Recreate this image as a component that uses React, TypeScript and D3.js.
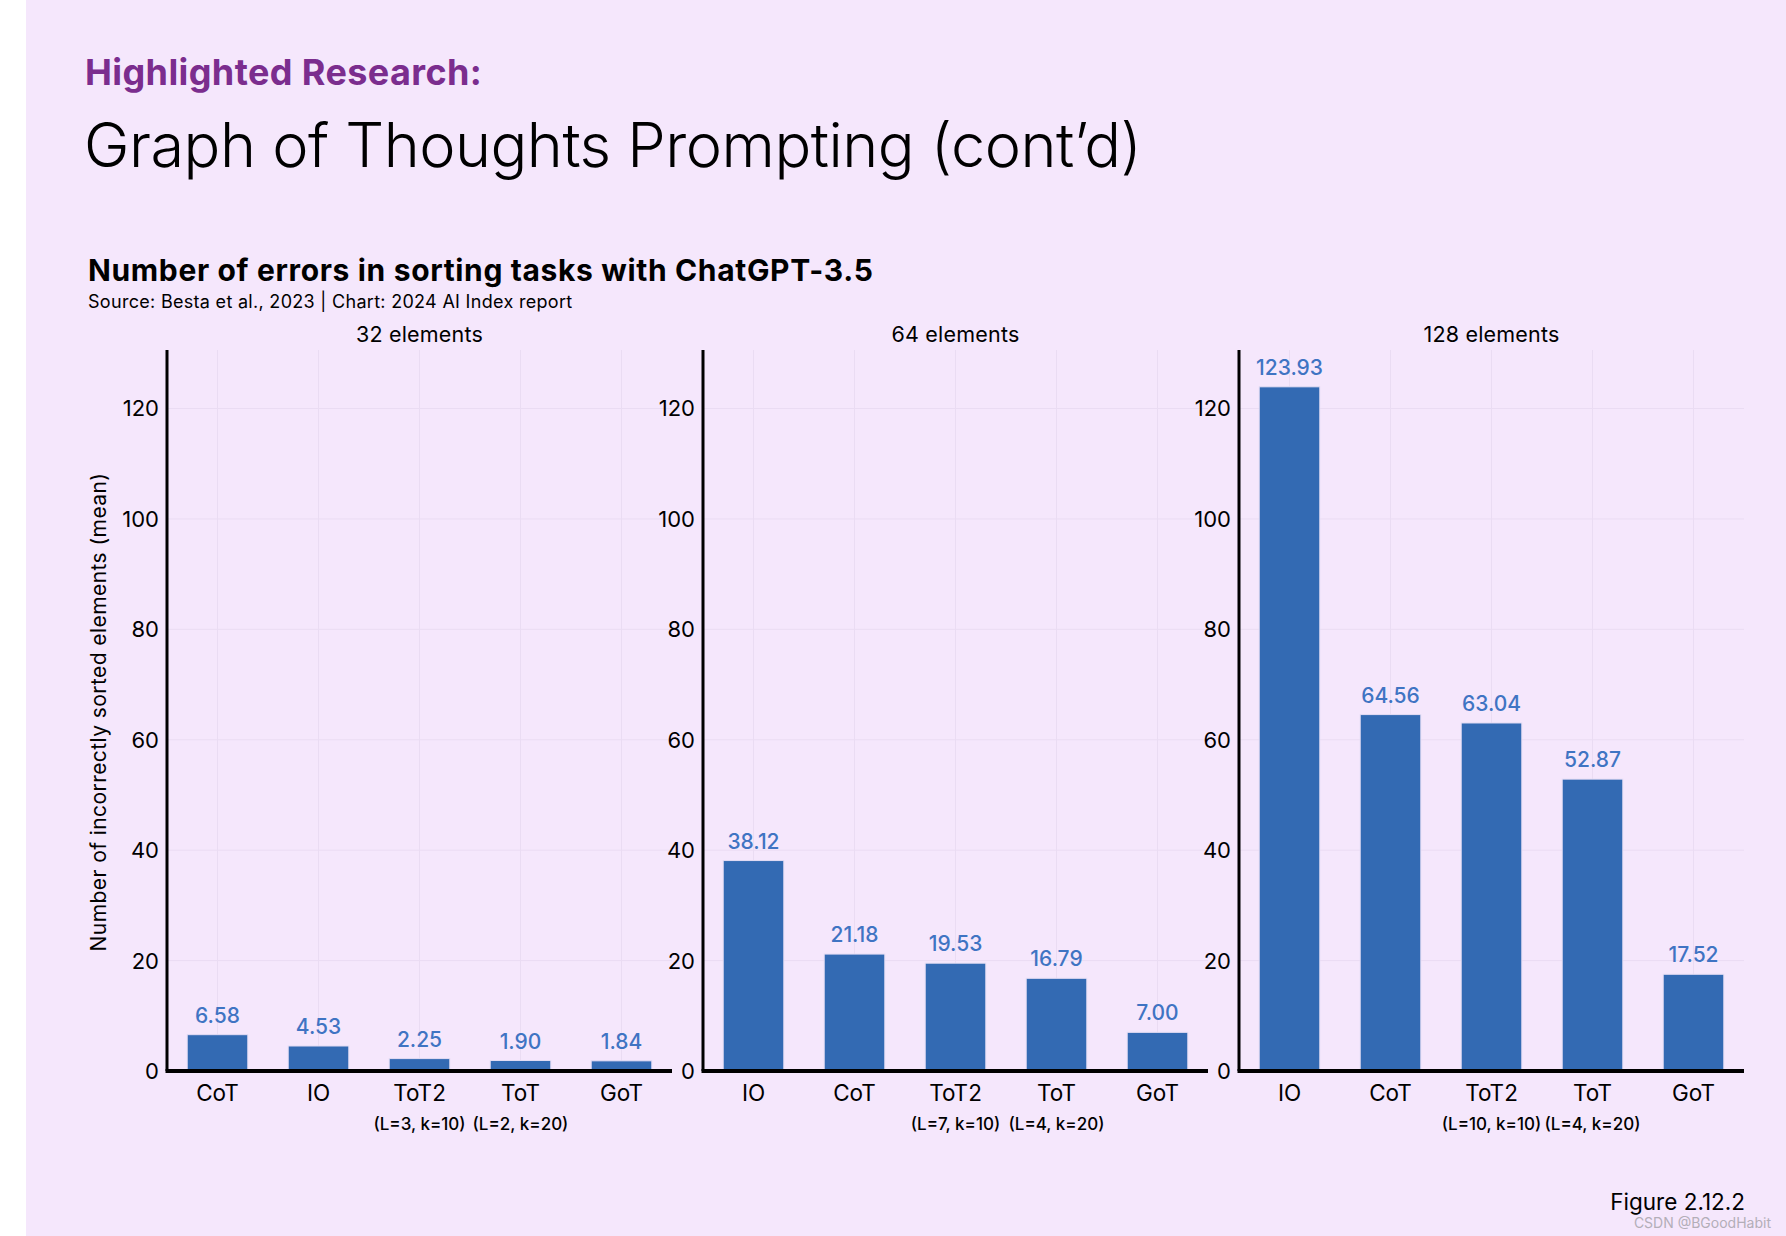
import React from "react";
import * as d3 from "d3";

const panelTitles = ["32 elements", "64 elements", "128 elements"];
const categories32 = ["CoT", "IO", "ToT2", "ToT", "GoT"];
const values32 = [6.58, 4.53, 2.25, 1.9, 1.84];
const sub32 = ["", "", "(L=3, k=10)", "(L=2, k=20)", ""];
const categories64 = ["IO", "CoT", "ToT2", "ToT", "GoT"];
const values64 = [38.12, 21.18, 19.53, 16.79, 7.0];
const sub64 = ["", "", "(L=7, k=10)", "(L=4, k=20)", ""];
const categories128 = ["IO", "CoT", "ToT2", "ToT", "GoT"];
const values128 = [123.93, 64.56, 63.04, 52.87, 17.52];
const sub128 = ["", "", "(L=10, k=10)", "(L=4, k=20)", ""];
const yTicks = [0, 20, 40, 60, 80, 100, 120];

const W = 1786;
const H = 1236;
const FONT = "Inter, 'Noto Sans', sans-serif";
const BG = "#F5E7FC";
const BAR = "#336AB3";
const LABEL = "#3F74C3";
const GRID = "#EADCF3";

const panels = [
  { title: panelTitles[0], cats: categories32, vals: values32, subs: sub32 },
  { title: panelTitles[1], cats: categories64, vals: values64, subs: sub64 },
  { title: panelTitles[2], cats: categories128, vals: values128, subs: sub128 },
];

const PANEL_LEFT0 = 167;
const PANEL_STEP = 536;
const PANEL_W = 505;
const Y_TOP = 350;
const Y_ZERO = 1071;

export default function App() {
  const y = d3.scaleLinear().domain([0, 130.6]).range([Y_ZERO, Y_TOP]);
  return (
    <div style={{ position: "absolute", left: 0, top: 0 }}>
      <svg width={W} height={H} style={{ display: "block" }} fontFamily={FONT}>
        <rect x={0} y={0} width={W} height={H} fill="#ffffff" />
        <rect x={26} y={0} width={W - 26} height={H} fill={BG} />
        <text x={85} y={85} fontSize={36} fontWeight={700} fill="#7B2D8E" letterSpacing={0.4}>
          Highlighted Research:
        </text>
        <text x={84} y={167} fontSize={61.2} fontWeight={300} fill="#000" letterSpacing={-0.5}>
          Graph of Thoughts Prompting (cont’d)
        </text>
        <text x={88} y={281} fontSize={30} fontWeight={700} fill="#000" letterSpacing={0.65}>
          Number of errors in sorting tasks with ChatGPT-3.5
        </text>
        <text x={88} y={308} fontSize={18} fill="#000" letterSpacing={0.3}>
          Source: Besta et al., 2023 | Chart: 2024 AI Index report
        </text>
        <text
          transform={`translate(106, 712) rotate(-90)`}
          textAnchor="middle"
          fontSize={21}
          letterSpacing={0.43}
          fill="#000"
        >
          Number of incorrectly sorted elements (mean)
        </text>
        {panels.map((p, pi) => {
          const left = PANEL_LEFT0 + pi * PANEL_STEP;
          const right = left + PANEL_W;
          const x = d3.scaleBand<string>().domain(p.cats).range([left, right]).padding(0);
          const bw = x.bandwidth() * 0.6;
          return (
            <g key={pi}>
              <text x={(left + right) / 2} y={342} textAnchor="middle" fontSize={21.5} letterSpacing={0.2} fill="#000">
                {p.title}
              </text>
              {yTicks.map((t) => (
                <line key={"h" + t} x1={left} x2={right} y1={y(t)} y2={y(t)} stroke={GRID} strokeWidth={1} />
              ))}
              {p.cats.map((c) => (
                <line
                  key={"v" + c}
                  x1={x(c)! + x.bandwidth() / 2}
                  x2={x(c)! + x.bandwidth() / 2}
                  y1={Y_TOP}
                  y2={Y_ZERO}
                  stroke={GRID}
                  strokeWidth={1}
                />
              ))}
              {p.cats.map((c, i) => {
                const cx = x(c)! + x.bandwidth() / 2;
                return (
                  <g key={"b" + c}>
                    <rect
                      x={cx - bw / 2}
                      y={y(p.vals[i])}
                      width={bw}
                      height={Y_ZERO - y(p.vals[i])}
                      fill={BAR}
                      stroke="#E4DDF4"
                      strokeWidth={1}
                    />
                    <text x={cx} y={y(p.vals[i]) - 12} textAnchor="middle" fontSize={21} fontWeight={500} fill={LABEL}>
                      {p.vals[i].toFixed(2)}
                    </text>
                    <text x={cx} y={1101} textAnchor="middle" fontSize={22.5} fill="#000">
                      {c}
                    </text>
                    {p.subs[i] ? (
                      <text x={cx} y={1130} textAnchor="middle" fontSize={17} fontWeight={500} fill="#000">
                        {p.subs[i]}
                      </text>
                    ) : null}
                  </g>
                );
              })}
              {yTicks.map((t) => (
                <text
                  key={"t" + t}
                  x={left - 8}
                  y={y(t)}
                  dy="0.36em"
                  textAnchor="end"
                  fontSize={22}
                  fill="#000"
                >
                  {t}
                </text>
              ))}
              <line x1={left} x2={left} y1={Y_TOP} y2={Y_ZERO} stroke="#000" strokeWidth={3} />
              <line x1={left - 1.5} x2={right} y1={Y_ZERO} y2={Y_ZERO} stroke="#000" strokeWidth={4} />
            </g>
          );
        })}
        <text x={1745} y={1210} textAnchor="end" fontSize={22.5} fill="#000">
          Figure 2.12.2
        </text>
        <text x={1771} y={1228} textAnchor="end" fontSize={14} fill="#B3AEB8">
          CSDN @BGoodHabit
        </text>
      </svg>
    </div>
  );
}
